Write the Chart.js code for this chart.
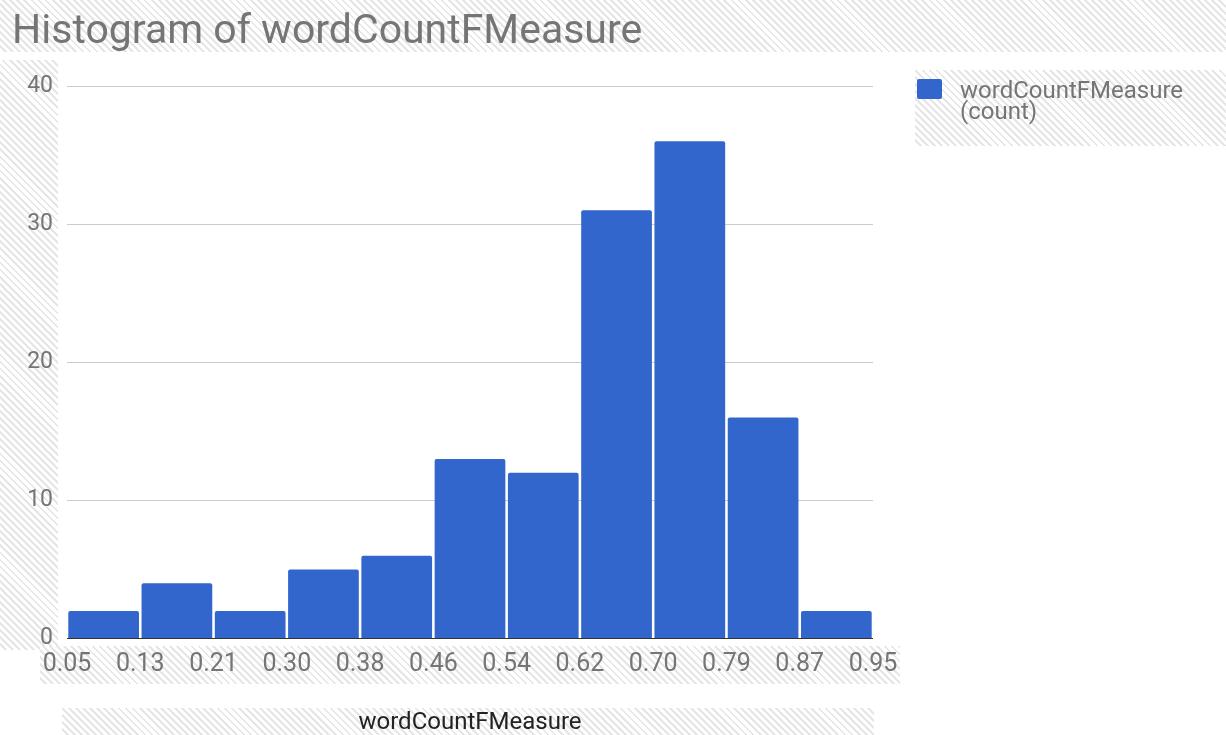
<!DOCTYPE html>
<html>
<head>
<meta charset="utf-8">
<script src="https://cdn.jsdelivr.net/npm/chart.js@4.4.1/dist/chart.umd.min.js"></script>
<style>
  html, body { margin: 0; padding: 0; background: #fff; }
  #wrap { position: relative; width: 1226px; height: 735px; overflow: hidden; }
  .hatch {
    position: absolute;
    background: repeating-linear-gradient(45deg, #fff 0px, #fff 3px, #e6e6e6 3px, #e6e6e6 5px);
  }
  #chartCanvas { position: absolute; left: 0; top: 0; }
  #legend {
    position: absolute; left: 917px; top: 80px;
    font-family: Roboto, Arial, sans-serif; font-size: 24px; color: #757575; line-height: 21px;
  }
  #legend .box { position: absolute; left: 0; top: -1px; width: 25px; height: 20px; background: #3366cc; border-radius: 2px; }
  #legend .txt { position: absolute; left: 43px; top: 0; white-space: nowrap; }
</style>
</head>
<body>
<div id="wrap">
  <div class="hatch" style="left:0;top:0;width:1226px;height:52px"></div>
  <div class="hatch" style="left:0;top:60px;width:58px;height:590px"></div>
  <div class="hatch" style="left:40px;top:646px;width:860px;height:38px"></div>
  <div class="hatch" style="left:62px;top:708px;width:812px;height:27px"></div>
  <div class="hatch" style="left:915px;top:70px;width:311px;height:76px"></div>
  <canvas id="chartCanvas" width="1226" height="735"></canvas>
  <div id="legend"><div class="box"></div><div class="txt">wordCountFMeasure<br>(count)</div></div>
</div>
<script>
// histogram bins and counts
const binLabels = ['0.05-0.13', '0.13-0.21', '0.21-0.30', '0.30-0.38', '0.38-0.46', '0.46-0.54',
                   '0.54-0.62', '0.62-0.70', '0.70-0.79', '0.79-0.87', '0.87-0.95'];
const counts = [2, 4, 2, 5, 6, 13, 12, 31, 36, 16, 2];
const edgeLabels = ['0.05', '0.13', '0.21', '0.30', '0.38', '0.46', '0.54', '0.62', '0.70', '0.79', '0.87', '0.95'];
const yTicks = [0, 10, 20, 30, 40];

const ctx = document.getElementById('chartCanvas').getContext('2d');
const myChart = new Chart(ctx, {
    type: 'bar',
    data: {
        labels: binLabels,
        datasets: [{
            label: 'wordCountFMeasure (count)',
            data: counts,
            backgroundColor: '#3366cc',
            borderRadius: { topLeft: 2, topRight: 2 },
            borderSkipped: 'bottom',
            barPercentage: 1,
            categoryPercentage: 0.965,
            xAxisID: 'x'
        }]
    },
    options: {
        responsive: false,
        animation: false,
        layout: { padding: { left: 12, right: 353, top: 0, bottom: 0 } },
        plugins: {
            legend: { display: false },
            tooltip: { enabled: false },
            title: {
                display: true,
                text: 'Histogram of wordCountFMeasure',
                align: 'start',
                color: '#757575',
                font: { family: 'Roboto', size: 41, weight: 'normal' },
                padding: { top: 8, bottom: 28.8 }
            }
        },
        scales: {
            x: {
                type: 'category',
                display: false,
                offset: true
            },
            edges: {
                type: 'category',
                position: 'bottom',
                labels: edgeLabels,
                offset: false,
                grid: { display: false, drawTicks: false },
                border: { display: false },
                ticks: {
                    color: '#757575',
                    font: { family: 'Roboto', size: 25, lineHeight: 1.1 },
                    padding: 12,
                    maxRotation: 0,
                    autoSkip: false
                },
                title: {
                    display: true,
                    text: 'wordCountFMeasure',
                    color: '#222',
                    font: { family: 'Roboto', size: 24, lineHeight: 1.0 },
                    padding: { top: 21, bottom: 0 }
                }
            },
            y: {
                min: 0,
                max: 40,
                afterBuildTicks: (scale) => { scale.ticks = yTicks.map(v => ({ value: v })); },
                afterFit: (scale) => { scale.width = 55; },
                grid: {
                    drawTicks: false,
                    color: (c) => c.tick && c.tick.value === 0 ? '#333' : '#cccccc',
                    lineWidth: 1
                },
                border: { display: false },
                ticks: {
                    color: '#757575',
                    font: { family: 'Roboto', size: 23 },
                    padding: 14
                }
            }
        }
    }
});
</script>
</body>
</html>
